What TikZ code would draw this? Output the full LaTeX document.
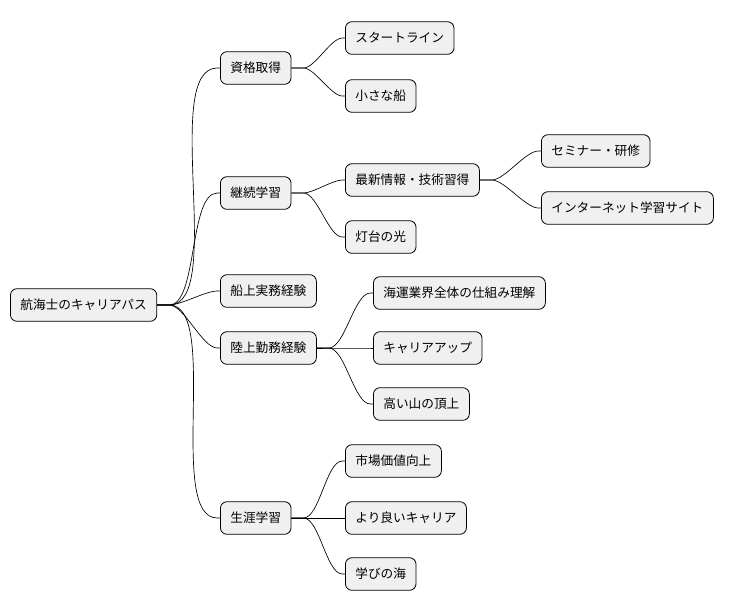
\documentclass[tikz,border=0pt]{standalone}
\usepackage{fontspec}
\setmainfont{Noto Sans CJK JP}
\begin{document}
\begin{tikzpicture}[x=0.75pt,y=-0.75pt,
  box/.style={draw=black,fill=gray!12,rounded corners=5pt,font=\fontsize{9.5pt}{11pt}\selectfont,minimum height=24.5pt,inner xsep=7.5pt,anchor=west,line width=0.6pt},
  link/.style={draw=black,line width=0.5pt}]
\useasboundingbox (0,0) rectangle (740,612);
\node[box] (r) at (10,305) {航海士のキャリアパス};
\node[box] (a) at (220,68) {資格取得};
\node[box] (a1) at (345,38) {スタートライン};
\node[box] (a2) at (345,96) {小さな船};
\node[box] (b) at (220,193) {継続学習};
\node[box] (b1) at (345,180) {最新情報・技術習得};
\node[box] (b11) at (541,151) {セミナー・研修};
\node[box] (b12) at (541,208) {インターネット学習サイト};
\node[box] (b2) at (345,237) {灯台の光};
\node[box] (c) at (220,291) {船上実務経験};
\node[box] (d) at (220,348) {陸上勤務経験};
\node[box] (d1) at (373,293) {海運業界全体の仕組み理解};
\node[box] (d2) at (373,348) {キャリアアップ};
\node[box] (d3) at (373,404) {高い山の頂上};
\node[box] (e) at (220,518) {生涯学習};
\node[box] (e1) at (345,461) {市場価値向上};
\node[box] (e2) at (345,518) {より良いキャリア};
\node[box] (e3) at (345,574) {学びの海};
\foreach \p/\c in {r/a,r/b,r/c,r/d,r/e,a/a1,a/a2,b/b1,b/b2,b1/b11,b1/b12,d/d1,d/d2,d/d3,e/e1,e/e2,e/e3}{
  \draw[link] (\p.east) -- ++(12,0) to[out=0,in=180,looseness=0.6] ([xshift=-2pt]\c.west) -- (\c.west);
}
\end{tikzpicture}
\end{document}
